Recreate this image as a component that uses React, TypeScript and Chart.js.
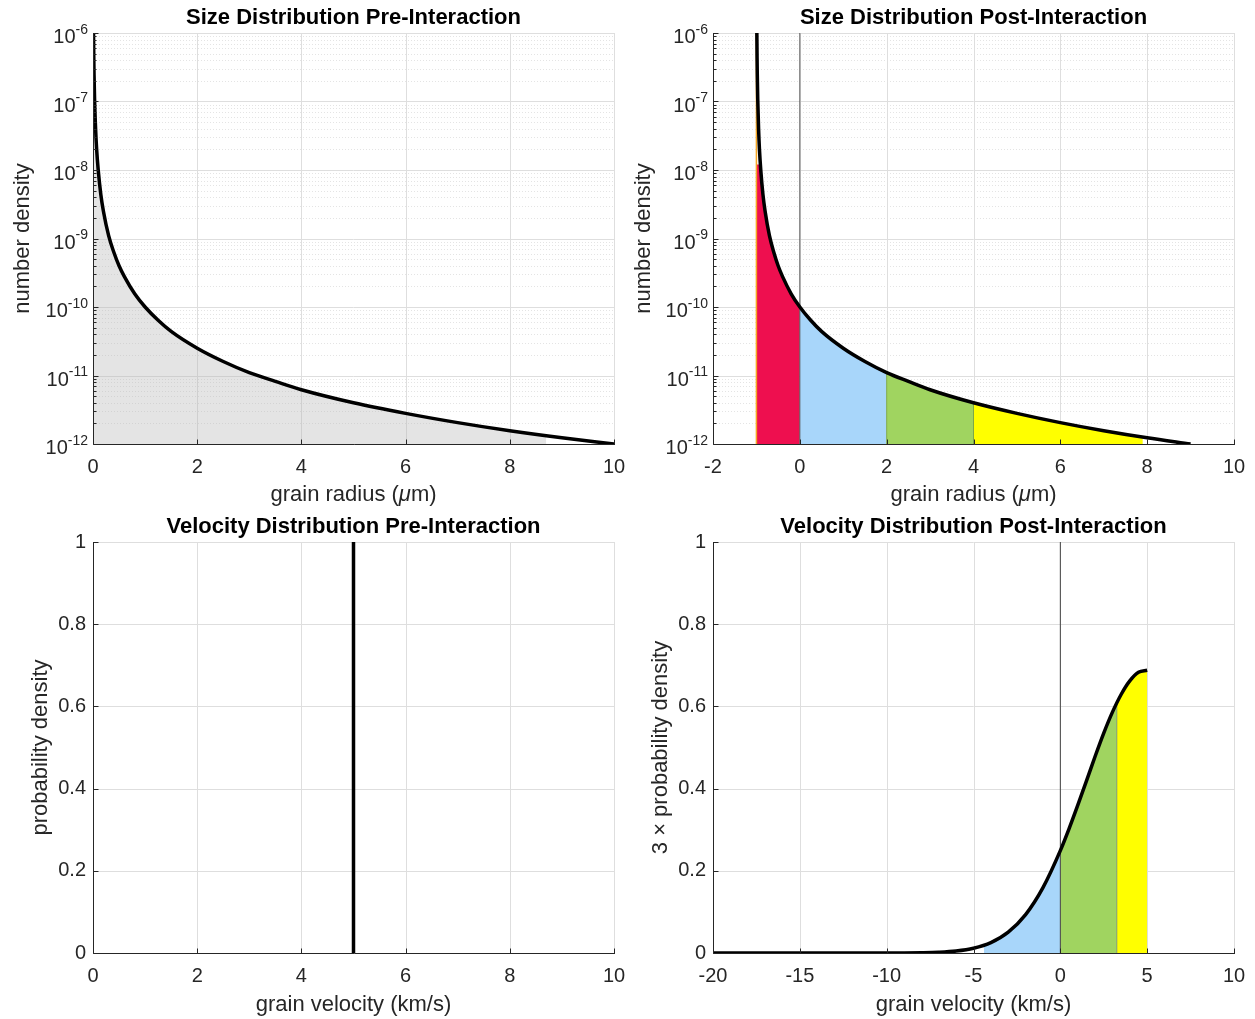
import React, { useEffect, useRef } from 'react';
import { Chart, registerables } from 'chart.js';

Chart.register(...registerables);

const FONT = "'Liberation Sans', Arial, Helvetica, sans-serif";
const TEXT = '#262626';

// ---------- Data ----------
// Pre-interaction size distribution
const grainRadius = [0.01, 0.015, 0.02, 0.03, 0.05, 0.07, 0.1, 0.15, 0.2, 0.3, 0.4, 0.5, 0.6, 0.8, 1, 1.25, 1.5, 2, 2.5, 3, 3.5, 4, 5, 6, 7, 8, 9, 10];
const numberDensity = [1e-6, 4.4e-7, 2.5e-7, 1.1e-7, 4e-8, 2e-8, 1e-8, 4.4e-9, 2.5e-9, 1.1e-9, 6.3e-10, 4e-10, 2.8e-10, 1.56e-10, 1e-10, 6.4e-11, 4.4e-11, 2.5e-11, 1.6e-11, 1.1e-11, 8.2e-12, 6.2e-12, 4e-12, 2.8e-12, 2.05e-12, 1.56e-12, 1.23e-12, 1e-12];
const greyRadius = [0.01, 0.015, 0.02, 0.03, 0.05, 0.07, 0.1, 0.15, 0.2, 0.3, 0.4, 0.5, 0.6, 0.8, 1, 1.25, 1.5, 2, 2.5, 3, 3.5, 4, 5, 6, 7, 8, 8.7];
const greyDensity = [1e-6, 4.4e-7, 2.5e-7, 1.1e-7, 4e-8, 2e-8, 1e-8, 4.4e-9, 2.5e-9, 1.1e-9, 6.3e-10, 4e-10, 2.8e-10, 1.56e-10, 1e-10, 6.4e-11, 4.4e-11, 2.5e-11, 1.6e-11, 1.1e-11, 8.2e-12, 6.2e-12, 4e-12, 2.8e-12, 2.05e-12, 1.56e-12, 1.32e-12];

// Post-interaction size distribution
const postRadius = [-0.99, -0.985, -0.98, -0.97, -0.95, -0.93, -0.9, -0.85, -0.8, -0.7, -0.6, -0.5, -0.4, -0.2, 0, 0.25, 0.5, 1, 1.5, 2, 2.5, 3, 4, 5, 6, 7, 8, 9];
const postDensity = [1e-6, 4.4e-7, 2.5e-7, 1.1e-7, 4e-8, 2e-8, 1e-8, 4.4e-9, 2.5e-9, 1.1e-9, 6.3e-10, 4e-10, 2.8e-10, 1.56e-10, 1e-10, 6.4e-11, 4.4e-11, 2.5e-11, 1.6e-11, 1.1e-11, 8.2e-12, 6.2e-12, 4e-12, 2.8e-12, 2.05e-12, 1.56e-12, 1.23e-12, 1e-12];
const redRadius = [-1, -0.91, -0.9, -0.85, -0.8, -0.7, -0.6, -0.5, -0.4, -0.2, 0];
const redDensity = [1.2e-8, 1.2e-8, 1e-8, 4.4e-9, 2.5e-9, 1.1e-9, 6.3e-10, 4e-10, 2.8e-10, 1.56e-10, 1e-10];
const blueRadius = [0, 0.25, 0.5, 1, 1.5, 2];
const blueDensity = [1e-10, 6.4e-11, 4.4e-11, 2.5e-11, 1.6e-11, 1.1e-11];
const greenRadius = [2, 2.5, 3, 4];
const greenDensity = [1.1e-11, 8.2e-12, 6.2e-12, 4e-12];
const yellowRadius = [4, 5, 6, 7, 7.9];
const yellowDensity = [4e-12, 2.8e-12, 2.05e-12, 1.56e-12, 1.25e-12];
const orangeEdgeRadius = [-1, -1];
const orangeEdgeDensity = [1e-12, 1e-6];
const zeroLineRadius = [0, 0];
const zeroLineDensity = [1e-12, 1e-6];
const edge2Radius = [2, 2];
const edge2Density = [1e-12, 1.1e-11];
const edge4Radius = [4, 4];
const edge4Density = [1e-12, 4e-12];

// Pre-interaction velocity distribution
const preVelocity = [5, 5];
const preProbability = [0, 1];

// Post-interaction velocity distribution
const postVelocity = [-20, -15, -12, -10, -9, -8, -7, -6, -5, -4, -3, -2, -1, 0, 0.5, 1, 1.5, 2, 2.5, 3, 3.5, 4, 4.5, 5];
const postProbability = [0, 0, 0.00001, 0.00007, 0.0002, 0.0007, 0.0019, 0.0049, 0.0117, 0.0253, 0.0507, 0.0934, 0.159, 0.249, 0.302, 0.359, 0.418, 0.478, 0.535, 0.586, 0.629, 0.662, 0.683, 0.688];
const vBlue = [-4.4, -4, -3, -2, -1, 0];
const pBlue = [0.02, 0.0253, 0.0507, 0.0934, 0.159, 0.249];
const vGreen = [0, 0.5, 1, 1.5, 2, 2.5, 3, 3.25];
const pGreen = [0.249, 0.302, 0.359, 0.418, 0.478, 0.535, 0.586, 0.607];
const vYellow = [3.25, 3.5, 4, 4.5, 5];
const pYellow = [0.607, 0.629, 0.662, 0.683, 0.69];
const vZeroLine = [0, 0];
const pZeroLine = [0, 1];
const vEdge = [3.25, 3.25];
const pEdge = [0, 0.607];

// Axis ticks
const logTickValues = [1e-12, 1e-11, 1e-10, 1e-9, 1e-8, 1e-7, 1e-6];
const logTickExponents = ['-12', '-11', '-10', '-9', '-8', '-7', '-6'];

// Axis-title pieces for the radius label (μ in italics, as in the TeX label)
const radiusTitleParts = [
  { text: 'grain radius (', italic: false },
  { text: 'μ', italic: true },
  { text: 'm)', italic: false },
];

// ---------- Colours ----------
const RED = '#EE0F4F';
const BLUE = '#A8D6FA';
const GREEN = '#A0D460';
const YELLOW = '#FFFF00';
const GREY_FILL = 'rgba(185,185,185,0.38)';

const pts = (xs: number[], ys: number[]) => xs.map((x, i) => ({ x, y: ys[i] }));

const minorLogValues: number[] = [];
for (let e = -12; e < -6; e++) {
  for (let m = 2; m <= 9; m++) minorLogValues.push(m * Math.pow(10, e));
}

const matlabAxes = {
  id: 'matlabAxes',
  beforeDatasetsDraw(chart: any) {
    const { ctx, chartArea: a } = chart;
    const x = chart.scales.x;
    const y = chart.scales.y;
    const isLog = y.type === 'logarithmic';
    ctx.save();
    ctx.lineWidth = 1;
    if (isLog) {
      ctx.strokeStyle = '#e4e4e4';
      ctx.setLineDash([1, 2]);
      for (const v of minorLogValues) {
        const py = Math.round(y.getPixelForValue(v)) + 0.5;
        ctx.beginPath(); ctx.moveTo(a.left, py); ctx.lineTo(a.right, py); ctx.stroke();
      }
      ctx.setLineDash([]);
    }
    ctx.strokeStyle = '#dedede';
    for (const t of x.ticks) {
      const px = Math.round(x.getPixelForValue(t.value)) + 0.5;
      ctx.beginPath(); ctx.moveTo(px, a.top); ctx.lineTo(px, a.bottom); ctx.stroke();
    }
    const yVals = isLog ? logTickValues : y.ticks.map((t: any) => t.value);
    for (const v of yVals) {
      const py = Math.round(y.getPixelForValue(v)) + 0.5;
      ctx.beginPath(); ctx.moveTo(a.left, py); ctx.lineTo(a.right, py); ctx.stroke();
    }
    ctx.restore();
  },
  afterDatasetsDraw(chart: any) {
    const { ctx, chartArea: a } = chart;
    const x = chart.scales.x;
    const y = chart.scales.y;
    const isLog = y.type === 'logarithmic';
    ctx.save();
    ctx.strokeStyle = TEXT;
    ctx.lineWidth = 1;
    const L = Math.round(a.left) + 0.5;
    const B = Math.round(a.bottom) + 0.5;
    ctx.beginPath();
    ctx.moveTo(L, Math.round(a.top));
    ctx.lineTo(L, B);
    ctx.lineTo(Math.round(a.right) + 1, B);
    ctx.stroke();
    for (const t of x.ticks) {
      const px = Math.round(x.getPixelForValue(t.value)) + 0.5;
      ctx.beginPath(); ctx.moveTo(px, B); ctx.lineTo(px, B - 5); ctx.stroke();
    }
    const yVals = isLog ? logTickValues : y.ticks.map((t: any) => t.value);
    for (const v of yVals) {
      const py = Math.round(y.getPixelForValue(v)) + 0.5;
      ctx.beginPath(); ctx.moveTo(L, py); ctx.lineTo(L + 5, py); ctx.stroke();
    }
    if (isLog) {
      for (const v of minorLogValues) {
        const py = Math.round(y.getPixelForValue(v)) + 0.5;
        ctx.beginPath(); ctx.moveTo(L, py); ctx.lineTo(L + 3, py); ctx.stroke();
      }
      // log tick labels 10^n
      ctx.fillStyle = TEXT;
      ctx.textAlign = 'left';
      ctx.textBaseline = 'alphabetic';
      const right = a.left - 5;
      logTickValues.forEach((v, i) => {
        const py = y.getPixelForValue(v);
        const ex = logTickExponents[i];
        ctx.font = `14px ${FONT}`;
        const w2 = ctx.measureText(ex).width;
        ctx.font = `20px ${FONT}`;
        const w1 = ctx.measureText('10').width;
        ctx.fillText('10', right - w2 - w1, py + 10);
        ctx.font = `14px ${FONT}`;
        ctx.fillText(ex, right - w2, py + 0.5);
      });
    }
    // custom x-axis title with mixed styles
    const parts = chart.options.plugins.matlabAxes && chart.options.plugins.matlabAxes.xTitleParts;
    if (parts) {
      const fontOf = (p: any) => `${p.italic ? 'italic ' : ''}22px ${FONT}`;
      let total = 0;
      const widths = parts.map((p: any) => { ctx.font = fontOf(p); const w = ctx.measureText(p.text).width; total += w; return w; });
      let cx = (a.left + a.right) / 2 - total / 2;
      const cy = chart.height - 1 - 13.2;
      ctx.fillStyle = TEXT;
      ctx.textAlign = 'left';
      ctx.textBaseline = 'middle';
      parts.forEach((p: any, i: number) => {
        ctx.font = fontOf(p);
        ctx.fillText(p.text, cx, cy);
        cx += widths[i];
      });
    }
    ctx.restore();
  },
};

type PanelOpts = {
  title: string;
  xTitle: string;
  xTitleParts?: { text: string; italic: boolean }[];
  yTitle: string;
  xMin: number; xMax: number; xStep: number;
  log: boolean;
  yAxisWidth: number;
  xAxisHeight: number;
  rightPad: number;
  yTitlePad: number;
  datasets: any[];
};

function makeConfig(o: PanelOpts): any {
  const tickFont = { family: FONT, size: 20 };
  const labelFont = { family: FONT, size: 22 };
  const yScale: any = o.log
    ? {
        type: 'logarithmic', min: 1e-12, max: 1e-6,
        ticks: { display: false },
      }
    : {
        type: 'linear', min: 0, max: 1,
        ticks: {
          stepSize: 0.2, font: tickFont, color: TEXT, padding: 7,
          callback: (v: any) => String(Number(Number(v).toFixed(1))),
        },
      };
  Object.assign(yScale, {
    grid: { display: false, drawTicks: false },
    border: { display: false },
    title: { display: true, text: o.yTitle, font: labelFont, color: TEXT, padding: { top: o.yTitlePad, bottom: 0 } },
    afterFit: (s: any) => { s.width = o.yAxisWidth; s.paddingTop = 0; s.paddingBottom = 0; },
  });
  return {
    type: 'line',
    data: { datasets: o.datasets },
    options: {
      responsive: false,
      animation: false,
      events: [],
      layout: { padding: { left: 0, right: o.rightPad, top: 0, bottom: 0 } },
      elements: { point: { radius: 0 } },
      plugins: {
        legend: { display: false },
        tooltip: { enabled: false },
        matlabAxes: { xTitleParts: o.xTitleParts || null },
        title: {
          display: true, text: o.title, fullSize: false, color: '#000',
          font: { family: FONT, size: 22, weight: 'bold' },
          padding: { top: 4.4, bottom: 33 - 4.4 - 26.4 },
        },
      },
      scales: {
        x: {
          type: 'linear', min: o.xMin, max: o.xMax,
          ticks: { stepSize: o.xStep, font: tickFont, color: TEXT, padding: 11, maxRotation: 0, autoSkip: false },
          grid: { display: false, drawTicks: false },
          border: { display: false },
          title: { display: !o.xTitleParts, text: o.xTitle, font: labelFont, color: TEXT, padding: { top: 0, bottom: 1 } },
          afterFit: (s: any) => { s.height = o.xAxisHeight; s.paddingLeft = 0; s.paddingRight = 0; },
        },
        y: yScale,
      },
    },
    plugins: [matlabAxes],
  };
}

const curve = (xs: number[], ys: number[], color = '#000', width = 3.5) => ({
  data: pts(xs, ys), borderColor: color, borderWidth: width, fill: false,
  pointRadius: 0, cubicInterpolationMode: 'monotone',
});
const area = (xs: number[], ys: number[], color: string, base: any) => ({
  data: pts(xs, ys), borderColor: 'rgba(0,0,0,0)', borderWidth: 0, backgroundColor: color,
  fill: base, pointRadius: 0, cubicInterpolationMode: 'monotone',
});
const vline = (xs: number[], ys: number[], color: string, width: number) => ({
  data: pts(xs, ys), borderColor: color, borderWidth: width, fill: false, pointRadius: 0,
});

const panels: { left: number; top: number; width: number; height: number; cfg: any }[] = [
  {
    left: 0, top: 0, width: 627, height: 509,
    cfg: makeConfig({
      title: 'Size Distribution Pre-Interaction', xTitle: 'grain radius (μm)', xTitleParts: radiusTitleParts, yTitle: 'number density',
      xMin: 0, xMax: 10, xStep: 2, log: true, yAxisWidth: 93, xAxisHeight: 65, rightPad: 13, yTitlePad: 9.4,
      datasets: [
        curve(grainRadius, numberDensity),
        area(greyRadius, greyDensity, GREY_FILL, { value: 1e-12 }),
      ],
    }),
  },
  {
    left: 627, top: 0, width: 628, height: 509,
    cfg: makeConfig({
      title: 'Size Distribution Post-Interaction', xTitle: 'grain radius (μm)', xTitleParts: radiusTitleParts, yTitle: 'number density',
      xMin: -2, xMax: 10, xStep: 2, log: true, yAxisWidth: 86, xAxisHeight: 65, rightPad: 21, yTitlePad: 3.4,
      datasets: [
        curve(postRadius, postDensity),
        vline(zeroLineRadius, zeroLineDensity, '#555555', 1),
        vline(edge2Radius, edge2Density, '#7BA84A', 1),
        vline(edge4Radius, edge4Density, '#7BA84A', 1),
        vline(orangeEdgeRadius, orangeEdgeDensity, '#F5A623', 1.5),
        area(redRadius, redDensity, RED, { value: 1e-12 }),
        area(blueRadius, blueDensity, BLUE, { value: 1e-12 }),
        area(greenRadius, greenDensity, GREEN, { value: 1e-12 }),
        area(yellowRadius, yellowDensity, YELLOW, { value: 1e-12 }),
      ],
    }),
  },
  {
    left: 0, top: 509, width: 627, height: 510,
    cfg: makeConfig({
      title: 'Velocity Distribution Pre-Interaction', xTitle: 'grain velocity (km/s)', yTitle: 'probability density',
      xMin: 0, xMax: 10, xStep: 2, log: false, yAxisWidth: 93, xAxisHeight: 66, rightPad: 13, yTitlePad: 27.4,
      datasets: [
        vline(preVelocity, preProbability, '#000', 3.5),
      ],
    }),
  },
  {
    left: 627, top: 509, width: 628, height: 510,
    cfg: makeConfig({
      title: 'Velocity Distribution Post-Interaction', xTitle: 'grain velocity (km/s)', yTitle: '3 × probability density',
      xMin: -20, xMax: 10, xStep: 5, log: false, yAxisWidth: 86, xAxisHeight: 66, rightPad: 21, yTitlePad: 20.4,
      datasets: [
        curve(postVelocity, postProbability),
        vline(vZeroLine, pZeroLine, '#404040', 1),
        vline(vEdge, pEdge, '#7E9A66', 1),
        area(vBlue, pBlue, BLUE, 'origin'),
        area(vGreen, pGreen, GREEN, 'origin'),
        area(vYellow, pYellow, YELLOW, 'origin'),
      ],
    }),
  },
];

function Panel({ left, top, width, height, cfg }: { left: number; top: number; width: number; height: number; cfg: any }) {
  const ref = useRef<HTMLCanvasElement | null>(null);
  useEffect(() => {
    if (!ref.current) return;
    const chart = new Chart(ref.current, cfg);
    return () => chart.destroy();
  }, [cfg]);
  return (
    <canvas
      ref={ref}
      width={width}
      height={height}
      style={{ position: 'absolute', left, top, width, height }}
    />
  );
}

export default function App() {
  return (
    <div style={{ position: 'absolute', left: 0, top: 0, width: 1255, height: 1019, background: '#fff' }}>
      {panels.map((p, i) => (
        <Panel key={i} {...p} />
      ))}
    </div>
  );
}
